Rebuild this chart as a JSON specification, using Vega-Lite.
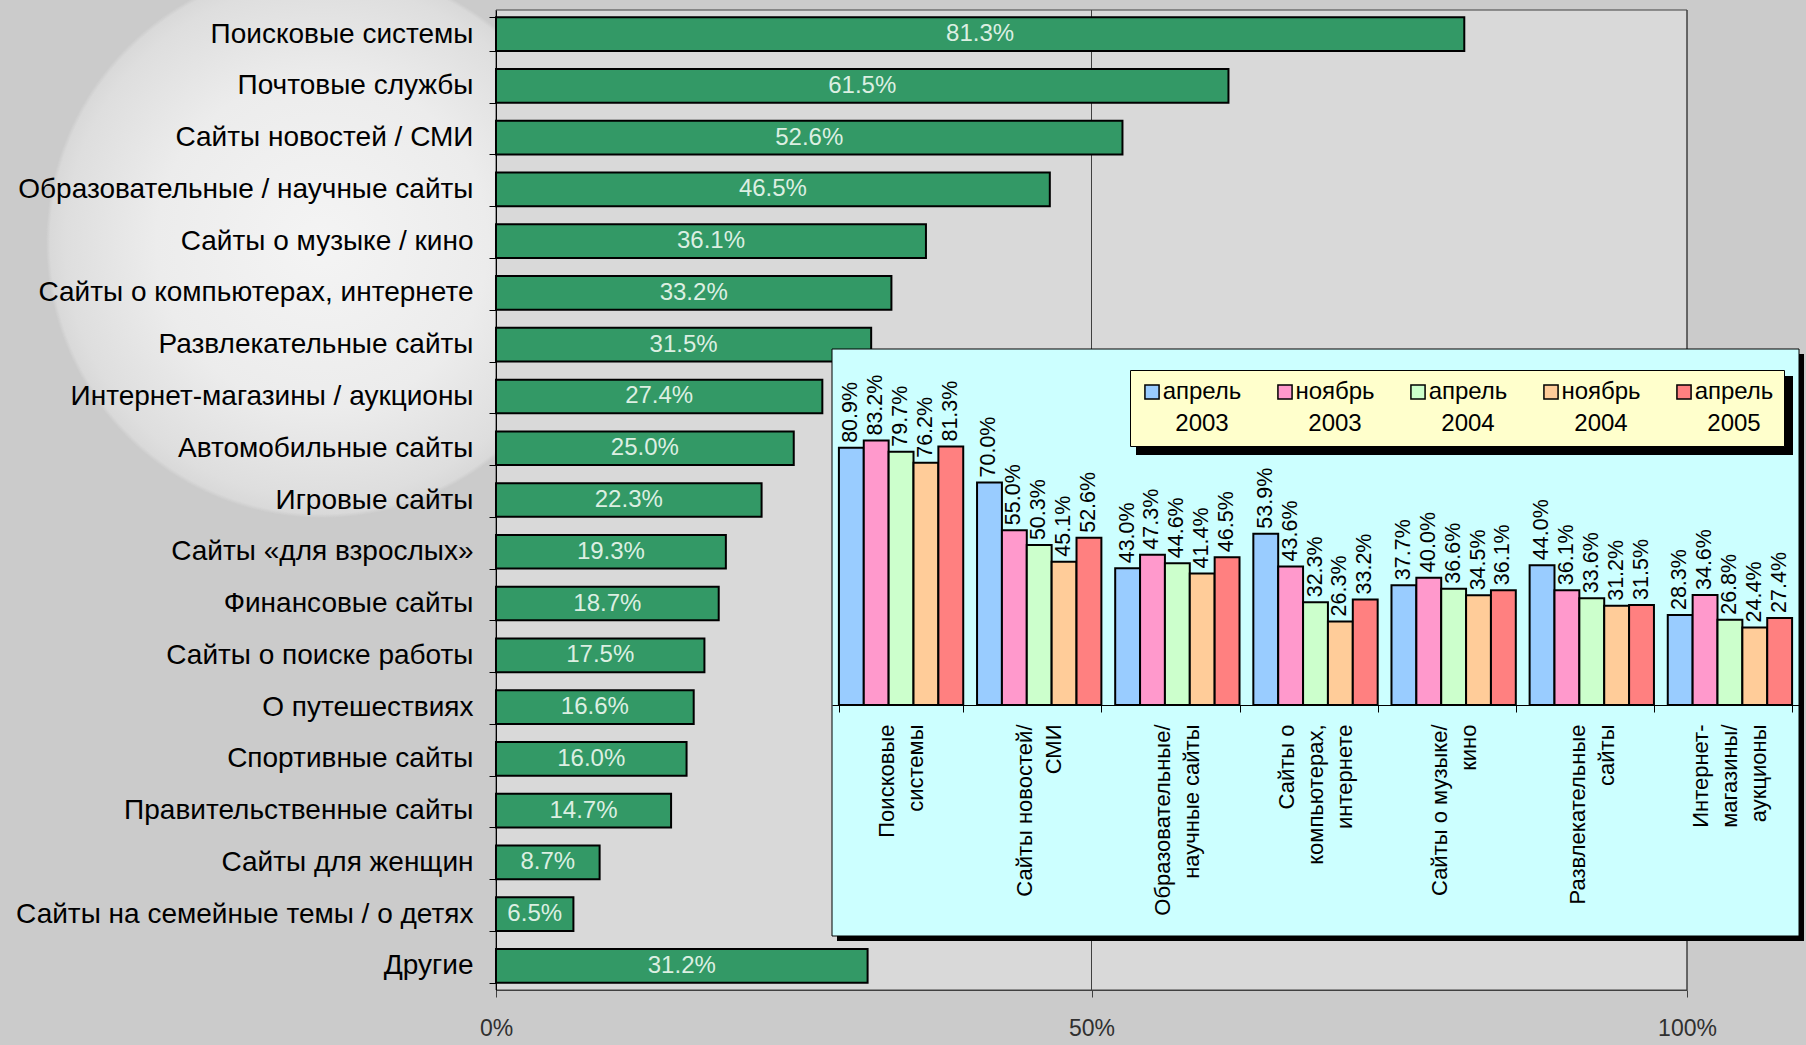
{
  "$schema": "https://vega.github.io/schema/vega-lite/v6.json",
  "width": 1191,
  "height": 980,
  "autosize": {"type": "none"},
  "padding": {"left": 496, "top": 10, "right": 119, "bottom": 55},
  "background": "#cbcbcb",
  "config": {
    "view": {"fill": null, "stroke": null},
    "font": "Liberation Sans"
  },
  "datasets": {
    "overall": [
      {"cat": "Поисковые системы", "v": 0.813},
      {"cat": "Почтовые службы", "v": 0.615},
      {"cat": "Сайты новостей / СМИ", "v": 0.526},
      {"cat": "Образовательные / научные сайты", "v": 0.465},
      {"cat": "Сайты о музыке / кино", "v": 0.361},
      {"cat": "Сайты о компьютерах, интернете", "v": 0.332},
      {"cat": "Развлекательные сайты", "v": 0.315},
      {"cat": "Интернет-магазины / аукционы", "v": 0.274},
      {"cat": "Автомобильные сайты", "v": 0.25},
      {"cat": "Игровые сайты", "v": 0.223},
      {"cat": "Сайты «для взрослых»", "v": 0.193},
      {"cat": "Финансовые сайты", "v": 0.187},
      {"cat": "Сайты о поиске работы", "v": 0.175},
      {"cat": "О путешествиях", "v": 0.166},
      {"cat": "Спортивные сайты", "v": 0.16},
      {"cat": "Правительственные сайты", "v": 0.147},
      {"cat": "Сайты для женщин", "v": 0.087},
      {"cat": "Сайты на семейные темы / о детях", "v": 0.065},
      {"cat": "Другие", "v": 0.312}
    ],
    "gridlines": [{"g": 0.5}, {"g": 1}],
    "trend": [
      {"cat": "Поисковые|системы", "period": "апрель 2003", "v": 0.809},
      {"cat": "Поисковые|системы", "period": "ноябрь 2003", "v": 0.832},
      {"cat": "Поисковые|системы", "period": "апрель 2004", "v": 0.797},
      {"cat": "Поисковые|системы", "period": "ноябрь 2004", "v": 0.762},
      {"cat": "Поисковые|системы", "period": "апрель 2005", "v": 0.813},
      {"cat": "Сайты новостей/|СМИ", "period": "апрель 2003", "v": 0.70},
      {"cat": "Сайты новостей/|СМИ", "period": "ноябрь 2003", "v": 0.55},
      {"cat": "Сайты новостей/|СМИ", "period": "апрель 2004", "v": 0.503},
      {"cat": "Сайты новостей/|СМИ", "period": "ноябрь 2004", "v": 0.451},
      {"cat": "Сайты новостей/|СМИ", "period": "апрель 2005", "v": 0.526},
      {"cat": "Образовательные/|научные сайты", "period": "апрель 2003", "v": 0.43},
      {"cat": "Образовательные/|научные сайты", "period": "ноябрь 2003", "v": 0.473},
      {"cat": "Образовательные/|научные сайты", "period": "апрель 2004", "v": 0.446},
      {"cat": "Образовательные/|научные сайты", "period": "ноябрь 2004", "v": 0.414},
      {"cat": "Образовательные/|научные сайты", "period": "апрель 2005", "v": 0.465},
      {"cat": "Сайты о|компьютерах,|интернете", "period": "апрель 2003", "v": 0.539},
      {"cat": "Сайты о|компьютерах,|интернете", "period": "ноябрь 2003", "v": 0.436},
      {"cat": "Сайты о|компьютерах,|интернете", "period": "апрель 2004", "v": 0.323},
      {"cat": "Сайты о|компьютерах,|интернете", "period": "ноябрь 2004", "v": 0.263},
      {"cat": "Сайты о|компьютерах,|интернете", "period": "апрель 2005", "v": 0.332},
      {"cat": "Сайты о музыке/|кино", "period": "апрель 2003", "v": 0.377},
      {"cat": "Сайты о музыке/|кино", "period": "ноябрь 2003", "v": 0.40},
      {"cat": "Сайты о музыке/|кино", "period": "апрель 2004", "v": 0.366},
      {"cat": "Сайты о музыке/|кино", "period": "ноябрь 2004", "v": 0.345},
      {"cat": "Сайты о музыке/|кино", "period": "апрель 2005", "v": 0.361},
      {"cat": "Развлекательные|сайты", "period": "апрель 2003", "v": 0.44},
      {"cat": "Развлекательные|сайты", "period": "ноябрь 2003", "v": 0.361},
      {"cat": "Развлекательные|сайты", "period": "апрель 2004", "v": 0.336},
      {"cat": "Развлекательные|сайты", "period": "ноябрь 2004", "v": 0.312},
      {"cat": "Развлекательные|сайты", "period": "апрель 2005", "v": 0.315},
      {"cat": "Интернет-|магазины/|аукционы", "period": "апрель 2003", "v": 0.283},
      {"cat": "Интернет-|магазины/|аукционы", "period": "ноябрь 2003", "v": 0.346},
      {"cat": "Интернет-|магазины/|аукционы", "period": "апрель 2004", "v": 0.268},
      {"cat": "Интернет-|магазины/|аукционы", "period": "ноябрь 2004", "v": 0.244},
      {"cat": "Интернет-|магазины/|аукционы", "period": "апрель 2005", "v": 0.274}
    ],
    "panel": [{"lo": 0, "hi": 1}]
  },
  "layer": [
    {
      "data": {"name": "panel"},
      "mark": {
        "type": "rect",
        "fill": {
          "gradient": "radial",
          "x1": 0.5, "y1": 0.5, "r1": 0,
          "x2": 0.5, "y2": 0.5, "r2": 0.5,
          "stops": [
            {"offset": 0, "color": "#f4f4f4"},
            {"offset": 0.6, "color": "#ececec"},
            {"offset": 0.93, "color": "#dedede"},
            {"offset": 0.985, "color": "#d9d9d9"},
            {"offset": 1, "color": "rgba(217,217,217,0)"}
          ]
        }
      },
      "encoding": {
        "x": {"field": "lo", "type": "quantitative", "scale": {"domain": [0, 1], "range": [-450, 102], "nice": false, "zero": false}, "axis": null},
        "x2": {"field": "hi"},
        "y": {"field": "lo", "type": "quantitative", "scale": {"domain": [0, 1], "range": [508, -44], "nice": false, "zero": false}, "axis": null},
        "y2": {"field": "hi"}
      }
    },
    {
      "data": {"name": "panel"},
      "mark": {"type": "rect", "fill": "#d9d9d9", "stroke": "#404040", "strokeWidth": 1},
      "encoding": {
        "x": {"value": 0},
        "x2": {"value": "width"},
        "y": {"value": 0},
        "y2": {"value": "height"}
      }
    },
    {
      "layer": [
        {
          "data": {"name": "gridlines"},
          "mark": {"type": "rule", "color": "#404040", "strokeWidth": 1},
          "encoding": {
            "x": {"field": "g", "type": "quantitative"}
          }
        },
        {
          "data": {"name": "overall"},
          "mark": {"type": "bar", "fill": "#339966", "stroke": "black", "strokeWidth": 2},
          "encoding": {
            "y": {
              "field": "cat",
              "type": "nominal",
              "sort": null,
              "scale": {"paddingInner": 0.35, "paddingOuter": 0.14},
              "axis": {
                "title": null,
                "zindex": 1,
                "labelFont": "Liberation Sans",
                "labelFontSize": 28,
                "labelColor": "black",
                "labelLimit": 0,
                "labelPadding": 16,
                "labelOverlap": false,
                "tickSize": 7,
                "tickColor": "black",
                "tickBand": "extent",
                "domainColor": "black"
              }
            },
            "x": {
              "field": "v",
              "type": "quantitative",
              "stack": null,
              "scale": {"domain": [0, 1], "nice": false},
              "axis": {
                "values": [0, 0.5, 1],
                "format": "%",
                "title": null,
                "zindex": 1,
                "grid": false,
                "tickSize": 7,
                "tickColor": "#404040",
                "domainColor": "#404040",
                "labelFont": "Liberation Sans",
                "labelFontSize": 23,
                "labelColor": "#303030",
                "labelPadding": 20,
                "labelFlush": false
              }
            }
          }
        },
        {
          "data": {"name": "overall"},
          "transform": [{"calculate": "datum.v / 2", "as": "mid"}],
          "mark": {"type": "text", "font": "Liberation Sans", "fontSize": 24, "color": "#dcefe2", "align": "center", "baseline": "middle"},
          "encoding": {
            "y": {"field": "cat", "type": "nominal", "sort": null},
            "x": {"field": "mid", "type": "quantitative"},
            "text": {"field": "v", "type": "quantitative", "format": ".1%"}
          }
        }
      ]
    },
    {
      "data": {"name": "panel"},
      "mark": {"type": "rect", "fill": "black"},
      "encoding": {
        "x": {"field": "lo", "type": "quantitative", "scale": {"domain": [0, 1], "range": [341, 1308], "nice": false, "zero": false}, "axis": null},
        "x2": {"field": "hi"},
        "y": {"field": "lo", "type": "quantitative", "scale": {"domain": [0, 1], "range": [931, 344], "nice": false, "zero": false}, "axis": null},
        "y2": {"field": "hi"}
      }
    },
    {
      "data": {"name": "panel"},
      "mark": {"type": "rect", "fill": "#ccffff", "stroke": "black", "strokeWidth": 1},
      "encoding": {
        "x": {"field": "lo", "type": "quantitative", "scale": {"domain": [0, 1], "range": [336, 1303], "nice": false, "zero": false}, "axis": null},
        "x2": {"field": "hi"},
        "y": {"field": "lo", "type": "quantitative", "scale": {"domain": [0, 1], "range": [926, 339], "nice": false, "zero": false}, "axis": null},
        "y2": {"field": "hi"}
      }
    },
    {
      "data": {"name": "panel"},
      "mark": {"type": "rect", "fill": "black"},
      "encoding": {
        "x": {"field": "lo", "type": "quantitative", "scale": {"domain": [0, 1], "range": [640, 1297], "nice": false, "zero": false}, "axis": null},
        "x2": {"field": "hi"},
        "y": {"field": "lo", "type": "quantitative", "scale": {"domain": [0, 1], "range": [445, 366], "nice": false, "zero": false}, "axis": null},
        "y2": {"field": "hi"}
      }
    },
    {
      "data": {"name": "trend"},
      "encoding": {
        "x": {
          "field": "cat",
          "type": "nominal",
          "sort": null,
          "scale": {"range": [336, 1303], "paddingInner": 0.1, "paddingOuter": 0.05},
          "axis": {
            "orient": "bottom",
            "offset": -285,
            "title": null,
            "zindex": 2,
            "domainColor": "black",
            "tickColor": "black",
            "tickSize": 7,
            "tickBand": "extent",
            "labelAngle": -90,
            "labelAlign": "right",
            "labelBaseline": "middle",
            "labelFont": "Liberation Sans",
            "labelFontSize": 22,
            "labelLineHeight": 29,
            "labelColor": "black",
            "labelPadding": 12,
            "labelLimit": 0,
            "labelOverlap": false,
            "labelBound": false,
            "labelOffset": {
              "condition": {"test": "length(split(datum.label, '|')) > 2", "value": -29},
              "value": -14.5
            },
            "labelExpr": "split(datum.label, '|')"
          }
        },
        "xOffset": {
          "field": "period",
          "type": "nominal",
          "sort": ["апрель 2003", "ноябрь 2003", "апрель 2004", "ноябрь 2004", "апрель 2005"]
        },
        "y": {
          "field": "v",
          "type": "quantitative",
          "stack": null,
          "scale": {"domain": [0, 1.12], "range": [695, 339], "nice": false},
          "axis": null
        }
      },
      "layer": [
        {
          "mark": {"type": "bar", "stroke": "black", "strokeWidth": 2},
          "encoding": {
            "color": {
              "field": "period",
              "type": "nominal",
              "scale": {
                "domain": ["апрель 2003", "ноябрь 2003", "апрель 2004", "ноябрь 2004", "апрель 2005"],
                "range": ["#99ccff", "#ff99cc", "#ccffcc", "#ffcc99", "#ff8080"]
              },
              "legend": {
                "orient": "none",
                "legendX": 634,
                "legendY": 360,
                "direction": "horizontal",
                "columns": 5,
                "title": null,
                "fillColor": "#ffffcc",
                "strokeColor": "black",
                "padding": 10,
                "symbolType": "square",
                "symbolSize": 200,
                "symbolStrokeColor": "black",
                "symbolStrokeWidth": 1.5,
                "labelFont": "Liberation Sans",
                "labelFontSize": 24,
                "labelColor": "black",
                "labelExpr": "split(datum.label, ' ')",
                "labelAlign": "center",
                "labelOffset": 38,
                "labelBaseline": "middle",
                "labelLimit": 0,
                "columnPadding": 31,
                "encode": {
                  "labels": {"update": {"lineHeight": {"value": 32}}}
                }
              }
            }
          }
        },
        {
          "mark": {"type": "text", "font": "Liberation Sans", "fontSize": 21.5, "color": "black", "angle": 270, "align": "left", "baseline": "middle", "dx": 5},
          "encoding": {
            "text": {"field": "v", "type": "quantitative", "format": ".1%"}
          }
        }
      ]
    }
  ],
  "resolve": {
    "scale": {"x": "independent", "y": "independent", "xOffset": "independent"},
    "axis": {"x": "independent", "y": "independent"}
  }
}
